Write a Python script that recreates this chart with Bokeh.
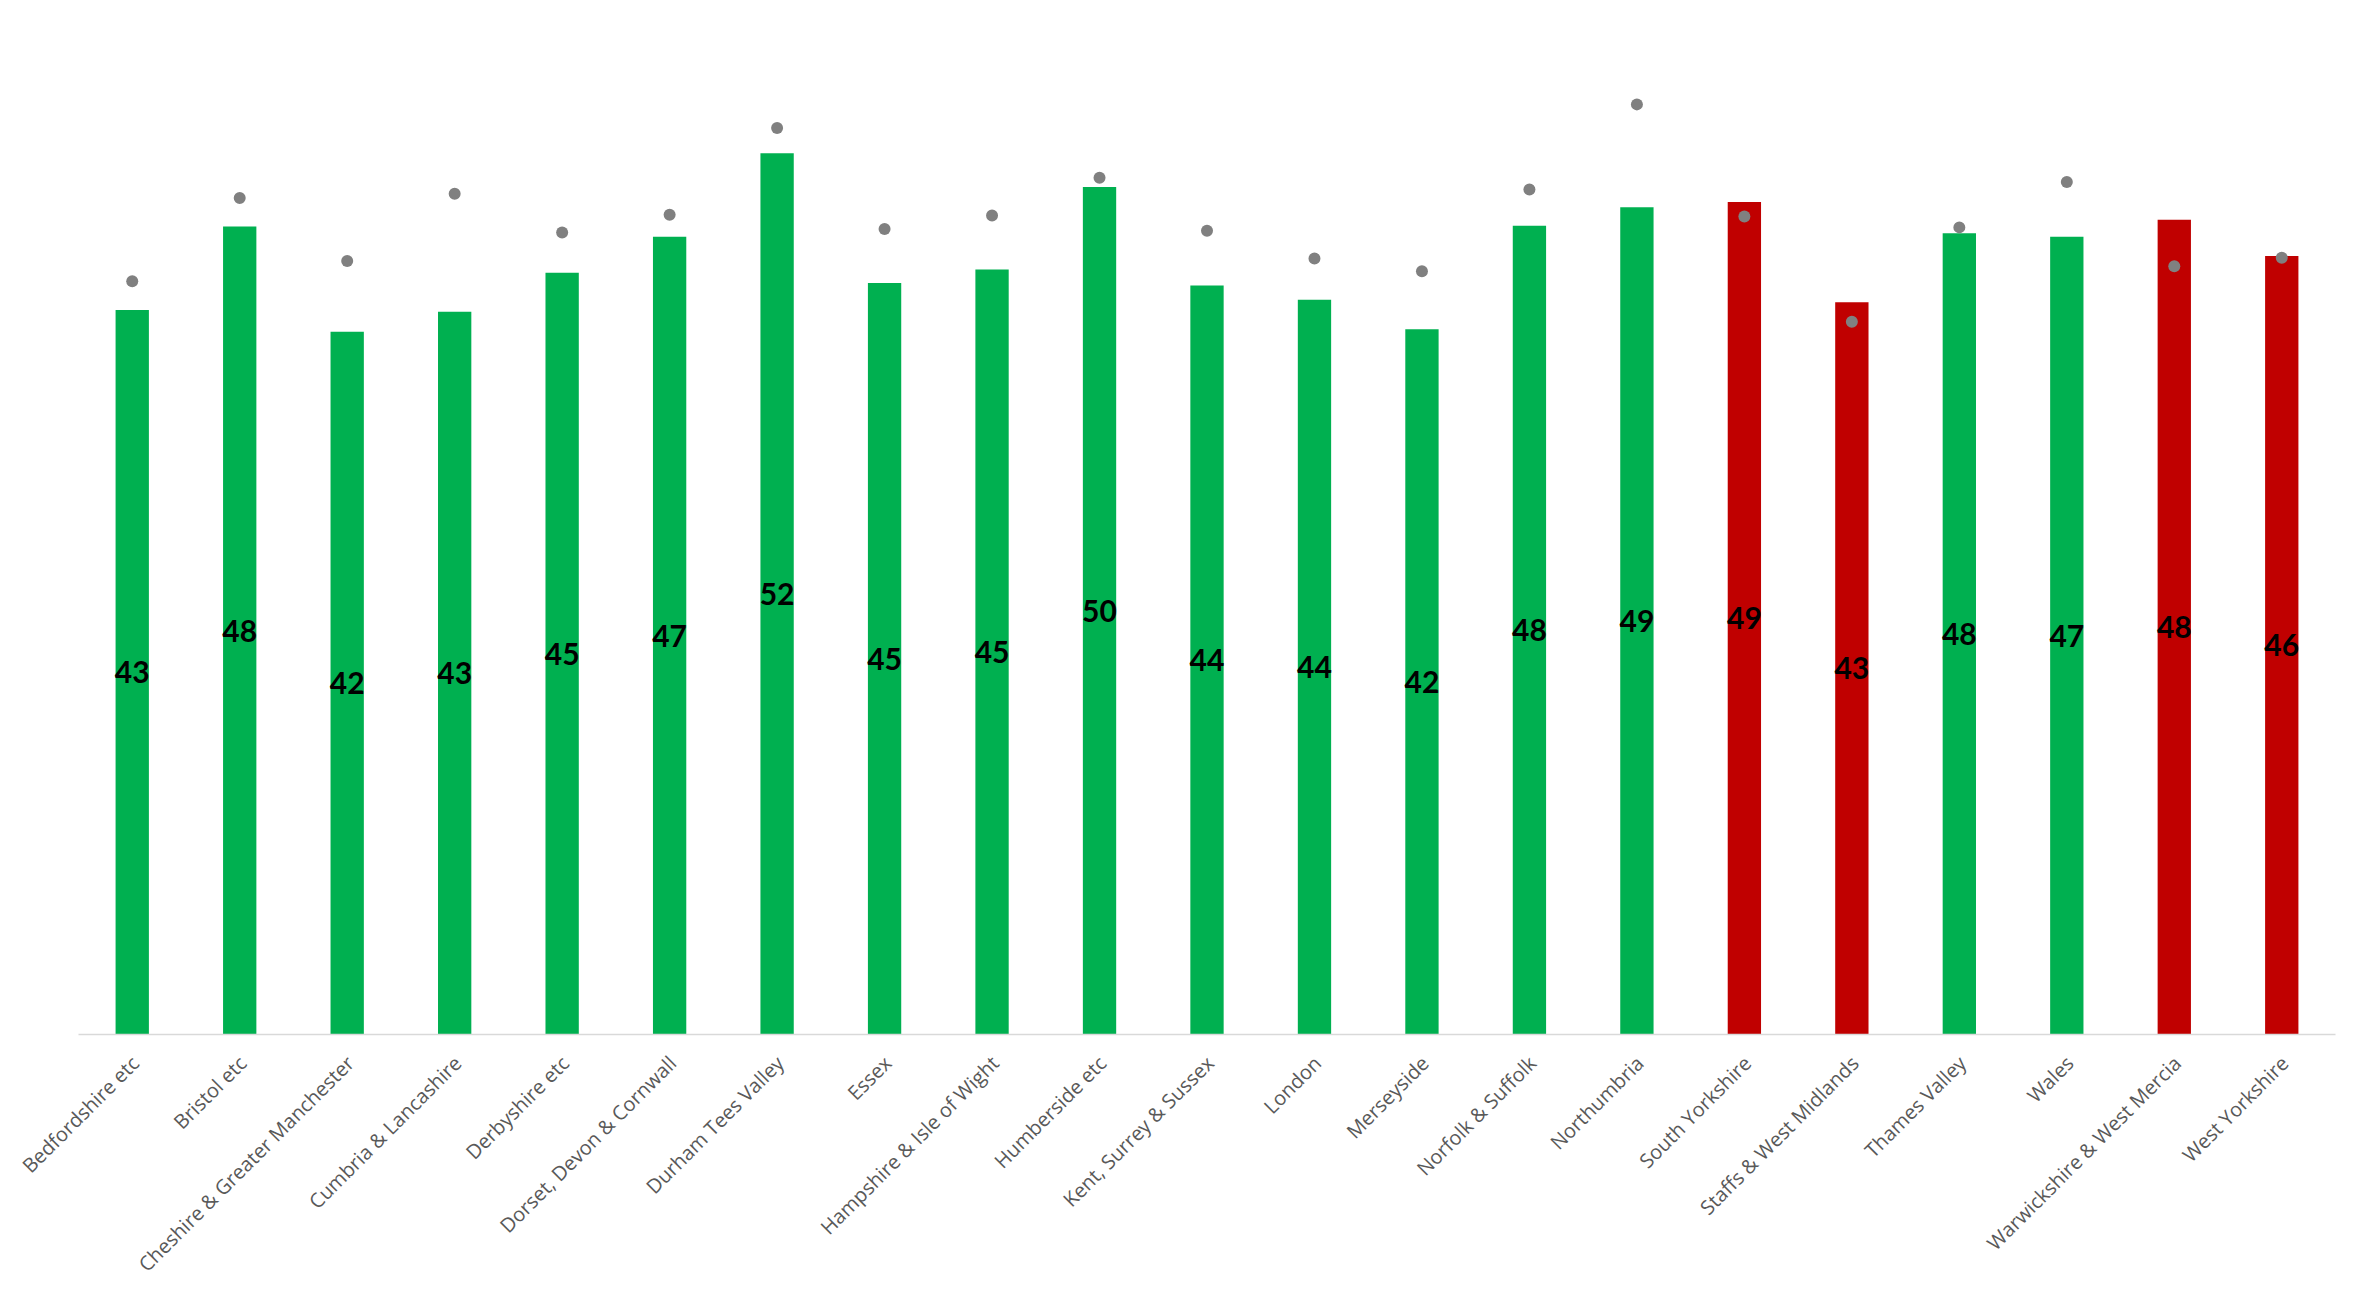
import math
from bokeh.plotting import figure
from bokeh.layouts import column
from bokeh.models import ColumnDataSource, Range1d, Span
from bokeh.core.properties import value
from bokeh.embed import file_html
from bokeh.resources import INLINE

# --- data ---
regions = [
    "Bedfordshire etc", "Bristol etc", "Cheshire & Greater Manchester",
    "Cumbria & Lancashire", "Derbyshire etc", "Dorset, Devon & Cornwall",
    "Durham Tees Valley", "Essex", "Hampshire & Isle of Wight",
    "Humberside etc", "Kent, Surrey & Sussex", "London", "Merseyside",
    "Norfolk & Suffolk", "Northumbria", "South Yorkshire",
    "Staffs & West Midlands", "Thames Valley", "Wales",
    "Warwickshire & West Mercia", "West Yorkshire",
]
bar_values = [43.0, 47.95, 41.7, 42.9, 45.2, 47.35, 52.3, 44.6, 45.4,
              50.3, 44.45, 43.6, 41.85, 48.0, 49.1, 49.4, 43.45, 47.55,
              47.35, 48.35, 46.2]
dot_values = [44.7, 49.65, 45.9, 49.9, 47.6, 48.65, 53.8, 47.8, 48.6,
              50.85, 47.7, 46.05, 45.3, 50.15, 55.2, 48.55, 42.3, 47.9,
              50.6, 45.6, 46.1]

GREEN = "#00B050"
RED = "#C00000"

n = len(regions)
xpos = [i + 0.5 for i in range(n)]          # category slots on the x scale
colors = [RED if d < b else GREEN for b, d in zip(bar_values, dot_values)]
labels = ["%d" % int(math.floor(b + 0.5)) for b in bar_values]
mids = [b / 2.0 for b in bar_values]

src = ColumnDataSource(dict(x=xpos, name=regions, top=bar_values,
                            dot=dot_values, color=colors, label=labels,
                            mid=mids))

W = 2342
H_MAIN = 1036
H_LAB = 256
LEFT, RIGHT = 78, 7
cat_px = (W - LEFT - RIGHT) / n
xr = Range1d(-LEFT / cat_px, n + RIGHT / cat_px)


def bare(fig):
    fig.xgrid.grid_line_color = None
    fig.ygrid.grid_line_color = None
    fig.outline_line_color = None
    fig.background_fill_color = "white"
    fig.border_fill_color = "white"


# ---- main chart ----
p = figure(x_range=xr, y_range=Range1d(-0.12, 60),
           width=W, height=H_MAIN, output_backend="svg",
           toolbar_location=None, y_axis_location=None,
           x_axis_location=None,
           min_border_left=0, min_border_right=0,
           min_border_top=23, min_border_bottom=0)
bare(p)

p.vbar(x="x", top="top", width=0.31, fill_color="color", line_color=None,
       source=src)
p.segment(x0=[0], x1=[n], y0=[0], y1=[0], line_color="#D9D9D9",
          line_width=1.5)
p.scatter(x="x", y="dot", size=12, fill_color="#808080", line_color=None,
          source=src)
p.text(x="x", y="mid", text="label", source=src,
       text_align="center", text_baseline="middle",
       text_font=value("Lato"), text_font_style="bold",
       text_font_size="30px", text_color="#000000")

# ---- category labels strip (same x scale, full-width frame) ----
q = figure(x_range=xr, y_range=Range1d(0, H_LAB),
           width=W, height=H_LAB, output_backend="svg",
           toolbar_location=None, y_axis_location=None,
           x_axis_location=None,
           min_border_left=0, min_border_right=0,
           min_border_top=0, min_border_bottom=0)
bare(q)

q.text(x="x", y=H_LAB - 23, text="name", source=src,
       angle=math.pi / 4, text_align="right", text_baseline="middle",
       x_offset=3, text_font=value("Open Sans"), text_font_size="20px",
       text_color="#595959")

layout = column(p, q, spacing=0)
open("out.html", "w").write(file_html(layout, INLINE))
